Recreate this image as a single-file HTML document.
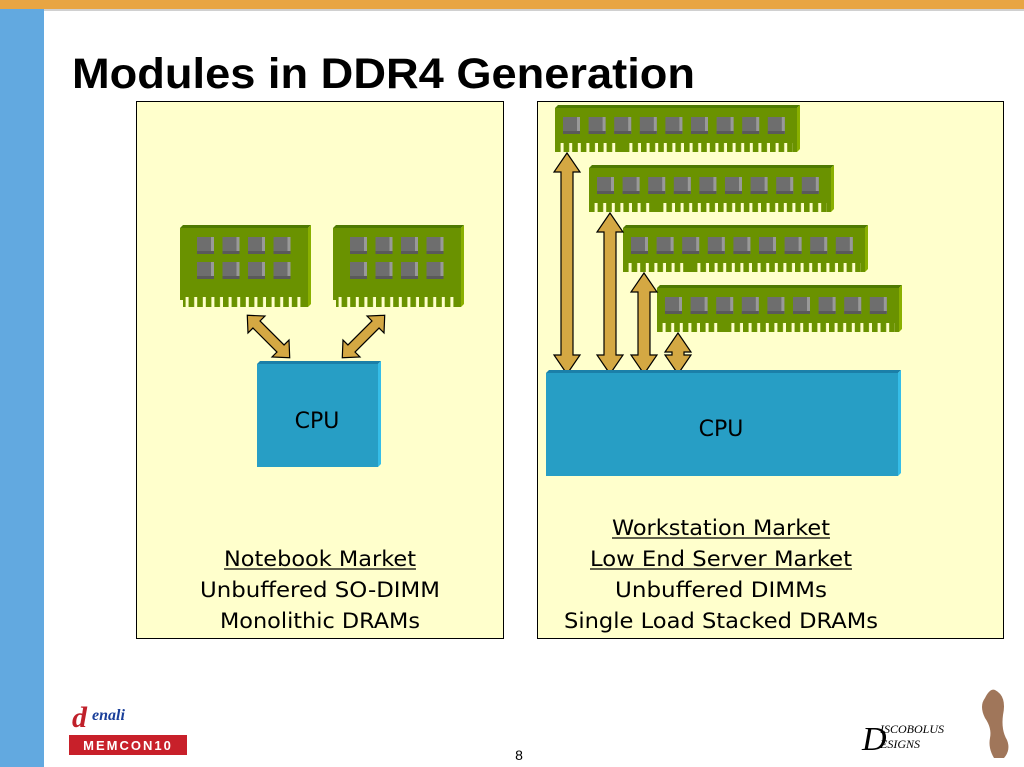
<!DOCTYPE html>
<html><head><meta charset="utf-8"><style>
html,body{margin:0;padding:0;background:#fff;}
svg{display:block}
text{font-family:"DejaVu Sans","Liberation Sans",sans-serif;}
</style></head><body>
<svg width="1024" height="767" viewBox="0 0 1024 767" xmlns="http://www.w3.org/2000/svg">
<defs>
<pattern id="teeth" x="0" y="0" width="8.6" height="20" patternUnits="userSpaceOnUse">
<rect x="5.6" y="0" width="3" height="20" fill="#ffffcc"/>
</pattern>
<g id="chip"><rect width="17" height="17" fill="#6e6e6e"/><rect x="14" width="3" height="17" fill="#999"/><rect y="14" width="17" height="3" fill="#5a5a5a"/></g>
<g id="smod">
<polygon points="0,3 3,0 131,0 128,3" fill="#4e7a00"/>
<polygon points="128,3 131,0 131,79 128,82" fill="#8ab000"/>
<rect x="0" y="3" width="128" height="79" fill="#6a9200"/>
<rect x="4" y="72" width="120" height="10" fill="url(#teeth)"/>
<rect x="0" y="75" width="3" height="7" fill="#ffffcc"/>
<use href="#chip" x="17" y="12"/><use href="#chip" x="42.5" y="12"/><use href="#chip" x="68" y="12"/><use href="#chip" x="93.5" y="12"/>
<use href="#chip" x="17" y="37"/><use href="#chip" x="42.5" y="37"/><use href="#chip" x="68" y="37"/><use href="#chip" x="93.5" y="37"/>
</g>
<g id="lmod">
<polygon points="0,3 3,0 245,0 242,3" fill="#4e7a00"/>
<polygon points="242,3 245,0 245,44 242,47" fill="#8ab000"/>
<rect x="0" y="3" width="242" height="44" fill="#6a9200"/>
<rect x="4" y="38" width="234" height="9" fill="url(#teeth)"/>
<rect x="64" y="38" width="6" height="9" fill="#6a9200"/>
<use href="#chip" x="8" y="12"/><use href="#chip" x="33.6" y="12"/><use href="#chip" x="59.2" y="12"/><use href="#chip" x="84.8" y="12"/><use href="#chip" x="110.4" y="12"/><use href="#chip" x="136" y="12"/><use href="#chip" x="161.6" y="12"/><use href="#chip" x="187.2" y="12"/><use href="#chip" x="212.8" y="12"/>
</g>
</defs>
<rect x="0" y="0" width="1024" height="9" fill="#e8a543"/>
<rect x="44" y="9" width="980" height="2" fill="#d0d0d0"/>
<rect x="0" y="9" width="44" height="758" fill="#62a9e0"/>
<text x="72" y="88" font-weight="bold" font-size="43" textLength="623" lengthAdjust="spacingAndGlyphs" style="font-family:'Liberation Sans',sans-serif" fill="#000">Modules in DDR4 Generation</text>

<rect x="136.5" y="101.5" width="367" height="537" fill="#ffffcc" stroke="#000" stroke-width="1"/>
<rect x="537.5" y="101.5" width="466" height="537" fill="#ffffcc" stroke="#000" stroke-width="1"/>

<use href="#smod" x="180" y="225"/>
<use href="#smod" x="333" y="225"/>

<polygon points="257,364 260,361 381,361 378,364" fill="#1b7fa8"/>
<polygon points="378,364 381,361 381,464 378,467" fill="#35bde8"/>
<rect x="257" y="364" width="121" height="103" fill="#279ec5"/>
<text x="317" y="428" font-size="22" text-anchor="middle" fill="#000">CPU</text>

<g fill="#d4a843" stroke="#000" stroke-width="1.2" stroke-linejoin="miter">
<polygon transform="translate(268.5,336.5) rotate(45)" points="-30,0 -17,-12 -17,-5 17,-5 17,-12 30,0 17,12 17,5 -17,5 -17,12"/>
<polygon transform="translate(363.5,336.5) rotate(-45)" points="-30,0 -17,-12 -17,-5 17,-5 17,-12 30,0 17,12 17,5 -17,5 -17,12"/>
</g>

<use href="#lmod" x="555" y="105"/>
<use href="#lmod" x="589" y="165"/>
<use href="#lmod" x="623" y="225"/>
<use href="#lmod" x="657" y="285"/>

<g fill="#d4a843" stroke="#000" stroke-width="1.2">
<polygon points="567,153 580,172 573,172 573,355 580,355 567,374 554,355 561,355 561,172 554,172"/>
<polygon points="610,213 623,232 616,232 616,355 623,355 610,374 597,355 604,355 604,232 597,232"/>
<polygon points="644,273 657,292 650,292 650,355 657,355 644,374 631,355 638,355 638,292 631,292"/>
<polygon points="678,333 691,352 684,352 684,355 691,355 678,374 665,355 672,355 672,352 665,352"/>
</g>

<polygon points="546,373 549,370 901,370 898,373" fill="#1b7fa8"/>
<polygon points="898,373 901,370 901,473 898,476" fill="#35bde8"/>
<rect x="546" y="373" width="352" height="103" fill="#279ec5"/>
<text x="721" y="436" font-size="22" text-anchor="middle" fill="#000">CPU</text>

<g font-size="21" fill="#000" text-anchor="middle">
<text x="320" y="566" textLength="192" lengthAdjust="spacingAndGlyphs">Notebook Market</text>
<line x1="224" y1="569" x2="416" y2="569" stroke="#000" stroke-width="1.3"/>
<text x="320" y="597" textLength="240" lengthAdjust="spacingAndGlyphs">Unbuffered SO-DIMM</text>
<text x="320" y="628" textLength="200" lengthAdjust="spacingAndGlyphs">Monolithic DRAMs</text>
<text x="721" y="535" textLength="218" lengthAdjust="spacingAndGlyphs">Workstation Market</text>
<line x1="612" y1="538" x2="830" y2="538" stroke="#000" stroke-width="1.3"/>
<text x="721" y="566" textLength="262" lengthAdjust="spacingAndGlyphs">Low End Server Market</text>
<line x1="590" y1="569" x2="852" y2="569" stroke="#000" stroke-width="1.3"/>
<text x="721" y="597" textLength="212" lengthAdjust="spacingAndGlyphs">Unbuffered DIMMs</text>
<text x="721" y="628" textLength="314" lengthAdjust="spacingAndGlyphs">Single Load Stacked DRAMs</text>
</g>

<text x="72" y="727" font-style="italic" font-weight="bold" font-size="30" fill="#c0202a" style="font-family:'Liberation Serif',serif">d</text>
<text x="92" y="720" font-style="italic" font-weight="bold" font-size="16" fill="#1a3f9a" style="font-family:'Liberation Serif',serif">enali</text>
<rect x="69" y="735" width="118" height="20" fill="#c8202a"/>
<text x="128" y="750" font-weight="bold" font-size="13" fill="#fff" text-anchor="middle" letter-spacing="2" style="font-family:'Liberation Sans',sans-serif">MEMCON10</text>
<text x="519" y="760" font-size="14" text-anchor="middle" fill="#000" style="font-family:'Liberation Sans',sans-serif">8</text>
<text x="862" y="750" font-style="italic" font-size="34" fill="#000" style="font-family:'Liberation Serif',serif">D</text>
<text x="880" y="733" font-style="italic" font-size="12" fill="#000" style="font-family:'Liberation Serif',serif">ISCOBOLUS</text>
<text x="880" y="748" font-style="italic" font-size="12" fill="#000" style="font-family:'Liberation Serif',serif">ESIGNS</text>
<path d="M995,690 q12,6 8,25 q-2,15 4,25 q4,10 -3,18 l-10,0 q-6,-10 -4,-20 q2,-10 -5,-20 q-6,-12 0,-20 q5,-10 10,-8z" fill="#a0765a"/>
</svg>
</body></html>
